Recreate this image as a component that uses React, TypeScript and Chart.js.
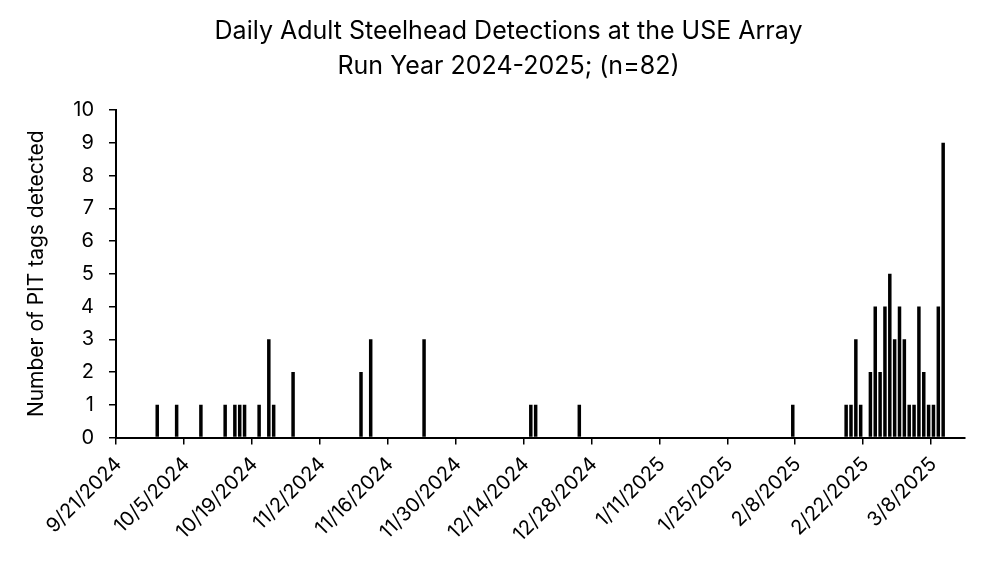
import React, { useEffect, useRef } from "react";
import { Chart, registerables } from "chart.js";

Chart.register(...registerables);

// ---- data ----
const titleLines = [
  "Daily Adult Steelhead Detections at the USE Array",
  "Run Year 2024-2025; (n=82)",
];
const yAxisTitle = "Number of PIT tags detected";

// axis spans 9/21/2024 .. 3/14/2025 (175 days), tick label every 14 days
const axisStartYear = 2024;
const axisStartMonth = 9;
const axisStartDay = 21;
const axisDayCount = 175;
const tickEveryDays = 14;

const detectionDates = [
  "9/29/2024", "10/3/2024", "10/8/2024", "10/13/2024", "10/15/2024", "10/16/2024",
  "10/17/2024", "10/20/2024", "10/22/2024", "10/23/2024", "10/27/2024",
  "11/10/2024", "11/12/2024", "11/23/2024",
  "12/15/2024", "12/16/2024", "12/25/2024",
  "2/7/2025",
  "2/18/2025", "2/19/2025", "2/20/2025", "2/21/2025",
  "2/23/2025", "2/24/2025", "2/25/2025", "2/26/2025", "2/27/2025", "2/28/2025",
  "3/1/2025", "3/2/2025", "3/3/2025", "3/4/2025", "3/5/2025", "3/6/2025",
  "3/7/2025", "3/8/2025", "3/9/2025", "3/10/2025",
];
const detectionCounts = [
  1, 1, 1, 1, 1, 1,
  1, 1, 3, 1, 2,
  2, 3, 3,
  1, 1, 1,
  1,
  1, 1, 3, 1,
  2, 4, 2, 4, 5, 3,
  4, 3, 1, 1, 4, 2,
  1, 1, 4, 9,
];

const yMin = 0;
const yMax = 10;
const yStep = 1;

// ---- helpers ----
function buildDayLabels(): string[] {
  const out: string[] = [];
  for (let i = 0; i < axisDayCount; i++) {
    const d = new Date(Date.UTC(axisStartYear, axisStartMonth - 1, axisStartDay + i));
    out.push(`${d.getUTCMonth() + 1}/${d.getUTCDate()}/${d.getUTCFullYear()}`);
  }
  return out;
}

const FONT = "Inter, 'Liberation Sans', Arial, sans-serif";
const PAD_LEFT = 52;
const PLOT_LEFT = 116;

export default function App() {
  const canvasRef = useRef<HTMLCanvasElement | null>(null);

  useEffect(() => {
    document.body.style.margin = "0";
    const canvas = canvasRef.current;
    if (!canvas) return;

    const labels = buildDayLabels();
    const countByDate = new Map<string, number>();
    detectionDates.forEach((d, i) => countByDate.set(d, detectionCounts[i]));
    const values = labels.map((l) => (countByDate.has(l) ? countByDate.get(l)! : null));

    const chart = new Chart(canvas, {
      type: "bar",
      data: {
        labels,
        datasets: [
          {
            data: values,
            backgroundColor: "#000000",
            borderWidth: 0,
            barPercentage: 0.72,
            categoryPercentage: 1,
          },
        ],
      },
      options: {
        responsive: false,
        animation: false,
        events: [],
        layout: { padding: { left: PAD_LEFT, right: 28, top: 0, bottom: 0 } },
        plugins: {
          legend: { display: false },
          tooltip: { enabled: false },
          title: {
            display: true,
            text: titleLines,
            color: "#000000",
            font: { family: FONT, size: 25, weight: "normal", lineHeight: 35 / 25 },
            padding: { top: 14, bottom: 26 },
          },
        },
        scales: {
          x: {
            type: "category",
            offset: true,
            grid: {
              offset: true,
              drawOnChartArea: false,
              drawTicks: true,
              tickLength: 7,
              lineWidth: 1.5,
              color: (ctx: any) =>
                ctx.index % tickEveryDays === 0 && ctx.index < axisDayCount
                  ? "#000000"
                  : "rgba(0,0,0,0)",
            },
            border: { display: true, color: "#000000", width: 2 },
            ticks: {
              autoSkip: false,
              maxRotation: 45,
              minRotation: 45,
              padding: 8,
              color: "#000000",
              font: { family: FONT, size: 20 },
              callback: (_v: any, i: number) => (i % tickEveryDays === 0 ? labels[i] : ""),
            },
            afterFit: (scale: any) => {
              scale.height = 561 - 437.5;
            },
          },
          y: {
            min: yMin,
            max: yMax,
            grid: {
              drawOnChartArea: false,
              drawTicks: true,
              tickLength: 7,
              lineWidth: 1.5,
              color: "#000000",
            },
            border: { display: true, color: "#000000", width: 2 },
            ticks: {
              stepSize: yStep,
              padding: 15,
              color: "#000000",
              font: { family: FONT, size: 20 },
            },
            title: {
              display: true,
              text: yAxisTitle,
              color: "#000000",
              font: { family: FONT, size: 21 },
              padding: { top: 24 - PAD_LEFT, bottom: 0 },
            },
            afterFit: (scale: any) => {
              scale.width = PLOT_LEFT - PAD_LEFT;
            },
          },
        },
      },
    });

    return () => chart.destroy();
  }, []);

  return (
    <div style={{ position: "fixed", left: 0, top: 0, width: 993, height: 561, background: "#fff" }}>
      <canvas ref={canvasRef} width={993} height={561} />
    </div>
  );
}
